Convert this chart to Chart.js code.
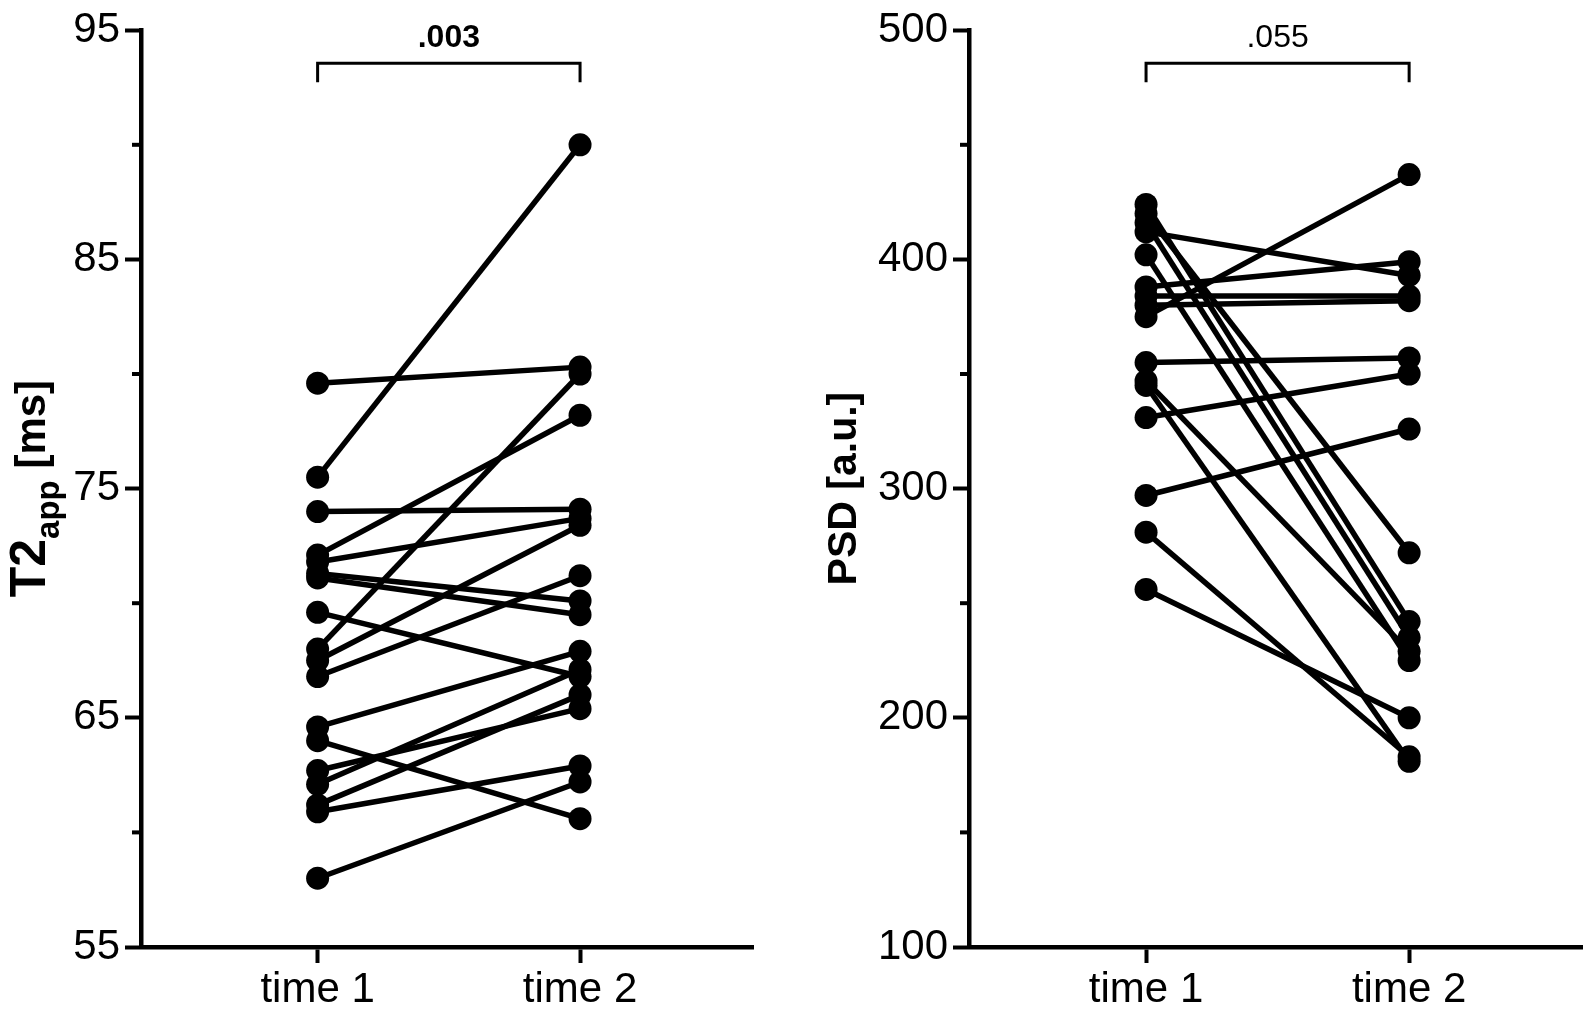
<!DOCTYPE html>
<html>
<head>
<meta charset="utf-8">
<script src="https://cdn.jsdelivr.net/npm/chart.js@4/dist/chart.umd.min.js"></script>
<style>
  html, body { margin: 0; padding: 0; background: #fff; }
  .panel { position: absolute; top: 0; width: 797px; height: 1016px; }
  #left { left: 0; }
  #right { left: 797px; }
</style>
</head>
<body>
<div class="panel" id="left"><canvas id="c-t2"></canvas></div>
<div class="panel" id="right"><canvas id="c-psd"></canvas></div>
<script>
const xLabels = ['time 1', 'time 2'];

// T2app [ms], one entry per subject
const t2Time1 = [79.6, 75.5, 74.0, 72.1, 71.8, 71.3, 71.1, 69.6, 68.0, 67.5, 66.8, 64.6, 64.0, 62.7, 62.1, 61.2, 60.9, 58.0];
const t2Time2 = [80.3, 90.0, 74.1, 78.2, 73.7, 70.1, 69.5, 66.8, 80.0, 73.4, 71.2, 67.9, 60.6, 65.4, 67.1, 66.0, 62.9, 62.2];
const t2Ticks = [55, 65, 75, 85, 95];

// PSD [a.u.]
const psdTime1 = [424, 420, 416, 412, 402, 388, 384, 380, 375, 355, 347, 345, 331, 297, 281, 256];
const psdTime2 = [242, 272, 235, 393, 225, 399, 384, 382, 437, 357, 229, 181, 350, 326, 183, 200];
const psdTicks = [100, 200, 300, 400, 500];

const pValues = ['.003', '.055'];

const FONT = "'Liberation Sans', Arial, Helvetica, sans-serif";

// minor ticks, p-value bracket and the y title (with subscript)
const extrasPlugin = {
  id: 'extras',
  afterDraw(chart, args, o) {
    const ctx = chart.ctx;
    const y = chart.scales.y, x = chart.scales.x;
    const area = chart.chartArea;
    ctx.save();
    ctx.strokeStyle = '#000';
    ctx.lineCap = 'butt';

    // short minor ticks
    ctx.lineWidth = 4;
    for (let v = y.min; v <= y.max + 1e-9; v += o.step) {
      if (o.major.includes(v)) continue;
      const py = y.getPixelForValue(v);
      ctx.beginPath();
      ctx.moveTo(area.left - 9, py);
      ctx.lineTo(area.left, py);
      ctx.stroke();
    }

    // bracket
    const bx1 = x.getPixelForValue(1), bx2 = x.getPixelForValue(2);
    const by = area.top + 33;
    ctx.lineWidth = 3;
    ctx.beginPath();
    ctx.moveTo(bx1, by + 19);
    ctx.lineTo(bx1, by);
    ctx.lineTo(bx2, by);
    ctx.lineTo(bx2, by + 19);
    ctx.stroke();
    ctx.fillStyle = '#000';
    ctx.textAlign = 'center';
    ctx.textBaseline = 'alphabetic';
    ctx.font = (o.pBold ? 'bold ' : '') + '32px ' + FONT;
    ctx.fillText(o.pText, (bx1 + bx2) / 2, by - 16);

    // y title
    ctx.translate(o.titleX, (area.top + area.bottom) / 2);
    ctx.rotate(-Math.PI / 2);
    let total = 0;
    o.title.forEach(p => { ctx.font = 'bold ' + p.size + 'px ' + FONT; total += ctx.measureText(p.text).width; });
    let tx = -total / 2;
    ctx.textAlign = 'left';
    o.title.forEach(p => {
      ctx.font = 'bold ' + p.size + 'px ' + FONT;
      ctx.fillText(p.text, tx, p.shift);
      tx += ctx.measureText(p.text).width;
    });
    ctx.restore();
  }
};

function makePanel(id, t1, t2, yMin, yMax, step, major, extras, rightPad, yWidth) {
  const datasets = t1.map((a, i) => ({
    data: [{ x: 1, y: a }, { x: 2, y: t2[i] }],
    borderColor: '#000',
    backgroundColor: '#000',
    borderWidth: 5.5,
    pointRadius: 11.5,
    pointBorderWidth: 0,
    pointBackgroundColor: '#000'
  }));

  return new Chart(document.getElementById(id), {
    type: 'line',
    data: { datasets },
    plugins: [extrasPlugin],
    options: {
      responsive: true,
      maintainAspectRatio: false,
      animation: false,
      events: [],
      layout: { padding: { top: 24, right: rightPad, left: 0, bottom: 0 } },
      plugins: {
        legend: { display: false },
        tooltip: { enabled: false },
        extras
      },
      scales: {
        x: {
          type: 'linear',
          min: 0.327,
          max: 2.659,
          afterBuildTicks: s => { s.ticks = [{ value: 1 }, { value: 2 }]; },
          afterFit: s => { s.height = 69; },
          border: { display: true, color: '#000', width: 4.5 },
          grid: { drawOnChartArea: false, drawTicks: true, tickLength: 16, tickWidth: 4, tickColor: '#000' },
          ticks: {
            autoSkip: false,
            maxRotation: 0,
            padding: 2,
            color: '#000',
            font: { family: FONT, size: 42 },
            callback: v => xLabels[v - 1]
          }
        },
        y: {
          min: yMin,
          max: yMax,
          afterFit: s => { s.width = yWidth; },
          border: { display: true, color: '#000', width: 4.5 },
          grid: {
            drawOnChartArea: false,
            drawTicks: true,
            tickLength: 16,
            tickWidth: 4,
            tickColor: c => (c.tick && major.includes(c.tick.value)) ? '#000' : 'rgba(0,0,0,0)'
          },
          ticks: {
            stepSize: step,
            padding: 5,
            color: '#000',
            font: { family: FONT, size: 42 },
            callback: v => major.includes(v) ? String(v) : ''
          }
        }
      }
    }
  });
}

makePanel('c-t2', t2Time1, t2Time2, 55, 95, 5, t2Ticks, {
  step: 5, major: t2Ticks, pText: pValues[0], pBold: true, titleX: 45,
  title: [
    { text: 'T2', size: 50, shift: 0 },
    { text: 'app', size: 33, shift: 14 },
    { text: ' [ms]', size: 42, shift: 0 }
  ]
}, 44, 141);

makePanel('c-psd', psdTime1, psdTime2, 100, 500, 50, psdTicks, {
  step: 50, major: psdTicks, pText: pValues[1], pBold: false, titleX: 59,
  title: [
    { text: 'PSD [a.u.]', size: 41, shift: 0 }
  ]
}, 11, 172);
</script>
</body>
</html>
